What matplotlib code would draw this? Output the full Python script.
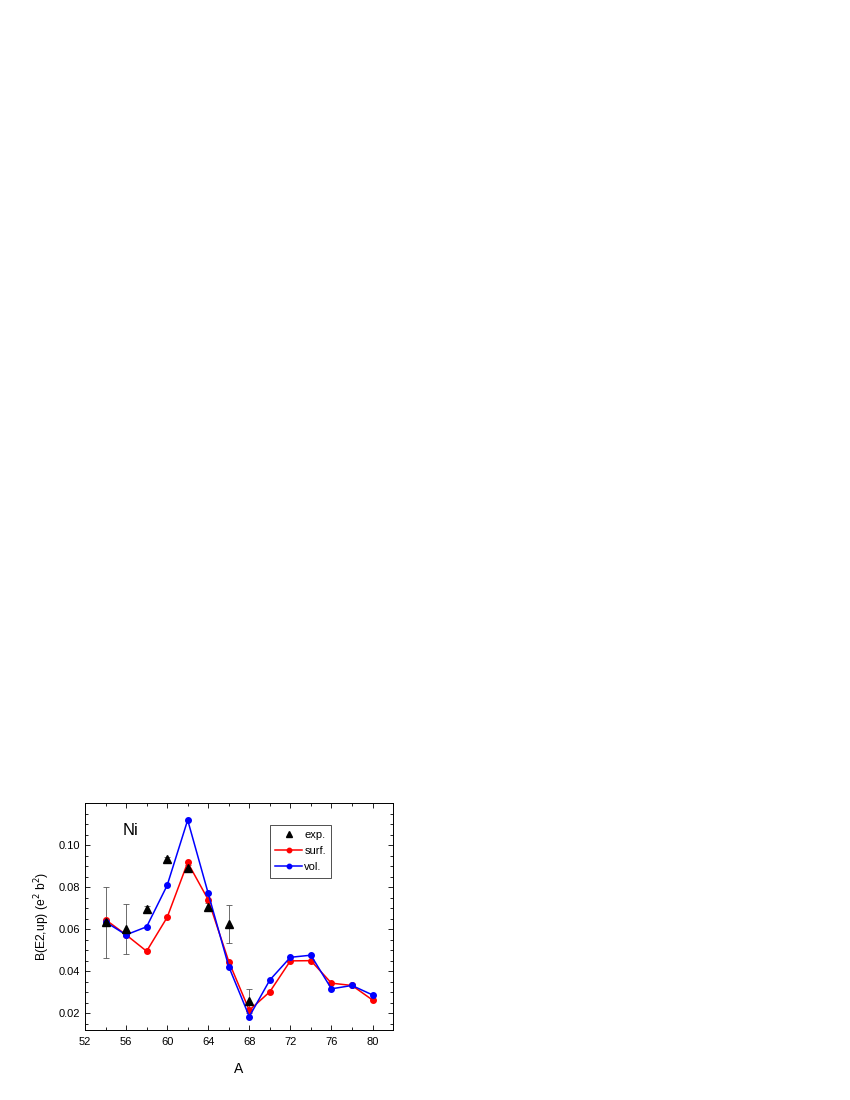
import numpy as np
import matplotlib
matplotlib.use('Agg')
import matplotlib.pyplot as plt
from matplotlib.ticker import MultipleLocator

plt.rcParams['font.family'] = ['Liberation Sans', 'DejaVu Sans']

# ── data ──
A_exp   = [54, 56, 58, 60, 62, 64, 66, 68]
B_exp   = [0.0632, 0.0600, 0.0697, 0.0934, 0.0890, 0.0705, 0.0624, 0.0259]
err_exp = [0.0170, 0.0120, 0.0015, 0.0010, 0.0017, 0.0017, 0.0090, 0.0057]

A_th   = [54, 56, 58, 60, 62, 64, 66, 68, 70, 72, 74, 76, 78, 80]
B_surf = [0.0645, 0.0573, 0.0495, 0.0656, 0.0917, 0.0740, 0.0446, 0.0214,
          0.0302, 0.0449, 0.0450, 0.0343, 0.0332, 0.0263]
B_vol  = [0.0634, 0.0573, 0.0611, 0.0808, 0.1119, 0.0770, 0.0422, 0.0184,
          0.0358, 0.0466, 0.0476, 0.0316, 0.0332, 0.0287]

RED  = '#ff0000'
BLUE = '#0000ff'

fig = plt.figure(figsize=(8.5, 11), dpi=100)
ax = fig.add_axes([0.1, 0.0636, 0.3624, 0.2064])

ax.errorbar(A_exp, B_exp, yerr=err_exp, fmt='none', ecolor='#555555',
            elinewidth=0.6, capsize=2, capthick=0.6, zorder=2)
ax.plot(A_th, B_surf, '-o', color=RED, lw=1.1, ms=4, label='surf.', zorder=3)
ax.plot(A_th, B_vol, '-o', color=BLUE, lw=1.1, ms=4, label='vol.', zorder=4)
ax.plot(A_exp, B_exp, '^', color='black', ms=5.5, ls='none', label='exp.', zorder=5)

ax.set_xlim(52, 82)
ax.set_ylim(0.012, 0.12)
ax.xaxis.set_major_locator(MultipleLocator(4))
ax.xaxis.set_minor_locator(MultipleLocator(2))
ax.yaxis.set_major_locator(MultipleLocator(0.02))
ax.yaxis.set_minor_locator(MultipleLocator(0.005))
ax.set_xticks(np.arange(52, 81, 4))
ax.set_yticks([0.02, 0.04, 0.06, 0.08, 0.10])
ax.set_yticklabels(['0.02', '0.04', '0.06', '0.08', '0.10'])
ax.tick_params(which='both', direction='in', top=True, right=True,
               labelsize=8, width=0.6)
ax.tick_params(which='major', length=3.5)
ax.tick_params(which='minor', length=2)
ax.tick_params(axis='x', pad=5)
for s in ax.spines.values():
    s.set_linewidth(0.7)

ax.set_xlabel('A', fontsize=10, labelpad=11)
ax.set_ylabel('B(E2,up) (e$^2$ b$^2$)', fontsize=8.7, labelpad=5)

ax.text(55.7, 0.1048, 'Ni', fontsize=12)

h, l = ax.get_legend_handles_labels()
order = [2, 0, 1]
leg = ax.legend([h[i] for i in order], [l[i] for i in order],
                loc='upper left', bbox_to_anchor=(0.6, 0.905),
                fontsize=8, frameon=True, fancybox=False, edgecolor='black',
                handlelength=2.4, handletextpad=0.2, borderpad=0.5,
                borderaxespad=0, labelspacing=0.55, markerscale=0.8)
leg.get_frame().set_linewidth(0.6)

fig.savefig('out.png', dpi=100, facecolor='white')
